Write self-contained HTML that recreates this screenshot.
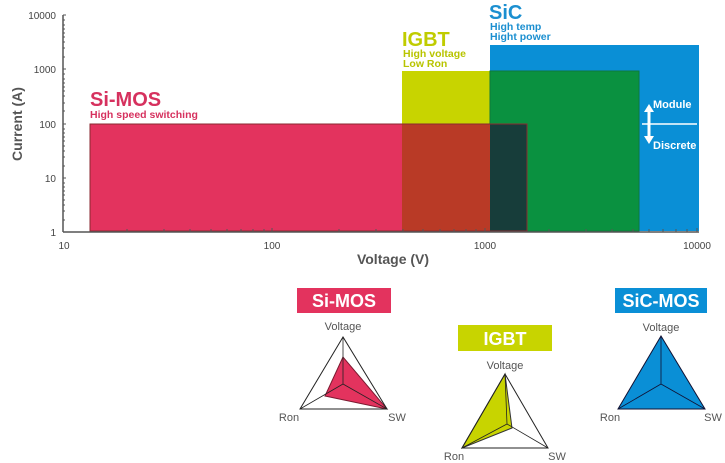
<!DOCTYPE html>
<html><head><style>
body{margin:0;background:#fff;width:725px;height:463px;overflow:hidden}
svg{display:block;font-family:"Liberation Sans",sans-serif}
</style></head><body>
<svg width="725" height="463" viewBox="0 0 725 463">
<rect x="490" y="45" width="209" height="186" fill="#0a8fd6"/>
<rect x="402" y="71" width="88" height="160" fill="#c8d400"/>
<rect x="490" y="71" width="149" height="160" fill="#0a9140" stroke="#0d7a3a" stroke-width="1"/>
<rect x="90" y="124" width="312" height="107" fill="#e3335e"/>
<rect x="402" y="124" width="88" height="107" fill="#b93a26"/>
<rect x="490" y="124" width="37" height="107" fill="#173d3a"/>
<rect x="90" y="124" width="437" height="107" fill="none" stroke="#8a2a30" stroke-width="1"/>
<line x1="642" y1="124" x2="697" y2="124" stroke="#fff" stroke-width="1.5"/>
<line x1="649" y1="110" x2="649" y2="138" stroke="#fff" stroke-width="3"/>
<polygon points="644,112 649,104 654,112" fill="#fff"/>
<polygon points="644,136 649,144 654,136" fill="#fff"/>
<text x="653" y="108" font-size="11" font-weight="bold" fill="#fff">Module</text>
<text x="653" y="149" font-size="11" font-weight="bold" fill="#fff">Discrete</text>
<g stroke="#555" stroke-width="1.5"><line x1="63" y1="15" x2="63" y2="232"/><line x1="63" y1="232" x2="699" y2="232"/></g>
<g stroke="#555" stroke-width="1">
<path d="M63,15h3M63,69h3M63,124h3M63,178h3M63,232h3
M63,20h2M63,25h2M63,29h2M63,33h2M63,37h2M63,42h2M63,48h2M63,57h2
M63,74h2M63,79h2M63,83h2M63,87h2M63,91h2M63,96h2M63,103h2M63,111h2
M63,129h2M63,133h2M63,137h2M63,141h2M63,146h2M63,151h2M63,157h2M63,166h2
M63,183h2M63,187h2M63,191h2M63,195h2M63,200h2M63,205h2M63,211h2M63,220h2"/>
<path d="M127,232v-3M164,232v-3M190,232v-3M211,232v-3M227,232v-3M241,232v-3M253,232v-3M264,232v-3
M339,232v-3M376,232v-3M403,232v-3M423,232v-3M440,232v-3M454,232v-3M466,232v-3M476,232v-3
M549,232v-3M586,232v-3M612,232v-3M633,232v-3M649,232v-3M663,232v-3M676,232v-3M687,232v-3
M272,232v-4M485,232v-4M697,232v-4"/>
</g>
<g font-size="10" fill="#444" text-anchor="end">
<text x="56" y="19">10000</text><text x="56" y="73">1000</text><text x="56" y="128">100</text><text x="56" y="182">10</text><text x="56" y="236">1</text>
</g>
<g font-size="10" fill="#444" text-anchor="middle">
<text x="64" y="249">10</text><text x="272" y="249">100</text><text x="485" y="249">1000</text><text x="697" y="249">10000</text>
</g>
<text x="393" y="264" font-size="14" font-weight="bold" fill="#555" text-anchor="middle">Voltage (V)</text>
<text transform="translate(22,124) rotate(-90)" font-size="14" font-weight="bold" fill="#555" text-anchor="middle">Current (A)</text>
<text x="90" y="106" font-size="20" font-weight="bold" fill="#d6315e">Si-MOS</text>
<text x="90" y="118" font-size="10.5" font-weight="bold" fill="#d6315e">High speed switching</text>
<text x="402" y="46" font-size="20" font-weight="bold" fill="#c0cc00">IGBT</text>
<text x="403" y="57" font-size="10.5" font-weight="bold" fill="#b8c400">High voltage</text>
<text x="403" y="67" font-size="10.5" font-weight="bold" fill="#b8c400">Low Ron</text>
<text x="489" y="19" font-size="20" font-weight="bold" fill="#1b8fd0">SiC</text>
<text x="490" y="30" font-size="10.5" font-weight="bold" fill="#1b8fd0">High temp</text>
<text x="490" y="40" font-size="10.5" font-weight="bold" fill="#1b8fd0">Hight power</text>
<rect x="297" y="288" width="94" height="25" fill="#e3335e"/>
<text x="344" y="307" font-size="18" font-weight="bold" fill="#fff" text-anchor="middle">Si-MOS</text>
<rect x="458" y="325" width="94" height="26" fill="#c8d400"/>
<text x="505" y="345" font-size="18" font-weight="bold" fill="#fff" text-anchor="middle">IGBT</text>
<rect x="615" y="288" width="92" height="25" fill="#0a8fd6"/>
<text x="661" y="307" font-size="18" font-weight="bold" fill="#fff" text-anchor="middle">SiC-MOS</text>
<g font-size="11" fill="#555">
<text x="343" y="330" text-anchor="middle">Voltage</text><text x="289" y="421" text-anchor="middle">Ron</text><text x="397" y="421" text-anchor="middle">SW</text>
<text x="505" y="369" text-anchor="middle">Voltage</text><text x="454" y="460" text-anchor="middle">Ron</text><text x="557" y="460" text-anchor="middle">SW</text>
<text x="661" y="331" text-anchor="middle">Voltage</text><text x="610" y="421" text-anchor="middle">Ron</text><text x="713" y="421" text-anchor="middle">SW</text>
</g>
<polygon points="343,357 325,396 387,409" fill="#e3335e" stroke="#7a1a30"/>
<polygon points="343,337 300,409 387,409" fill="none" stroke="#222"/>
<path d="M343,337V384L300,409M343,384L387,409" fill="none" stroke="#222" stroke-width="0.8"/>
<polygon points="505,374 462,448 512,428" fill="#c8d400" stroke="#333"/>
<polygon points="505,374 462,448 548,448" fill="none" stroke="#222"/>
<path d="M505,374L507,424L462,448M507,424L548,448" fill="none" stroke="#222" stroke-width="0.8"/>
<polygon points="661,336 618,409 705,409" fill="#0a8fd6" stroke="#113"/>
<path d="M661,336V384L618,409M661,384L705,409" fill="none" stroke="#113" stroke-width="0.8"/>
</svg>
</body></html>
